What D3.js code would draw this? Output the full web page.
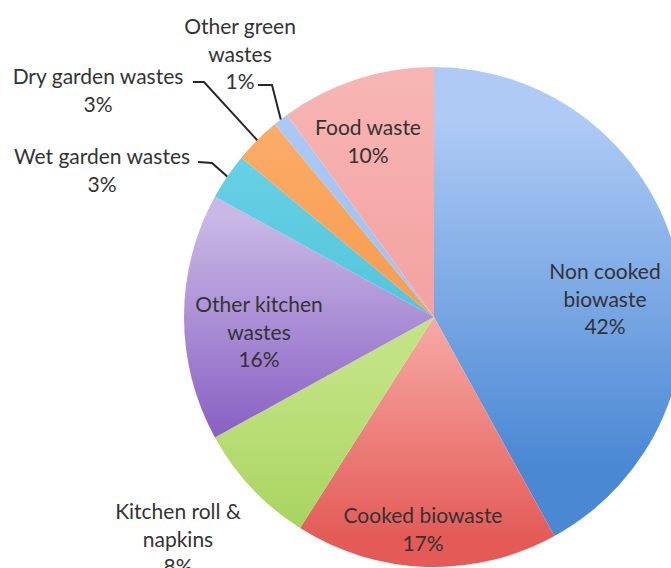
<!DOCTYPE html>
<html>
<head>
<meta charset="utf-8">
<script src="https://cdn.jsdelivr.net/npm/d3@7"></script>
<style>
  html, body { margin: 0; padding: 0; background: #ffffff; }
  svg { display: block; }
</style>
</head>
<body>
<svg id="chart" width="671" height="568"></svg>
<script>
// ---- data ----
const categories = [
  "Non cooked biowaste",
  "Cooked biowaste",
  "Kitchen roll & napkins",
  "Other kitchen wastes",
  "Wet garden wastes",
  "Dry garden wastes",
  "Other green wastes",
  "Food waste"
];
const values = [42, 17, 8, 16, 3, 3, 1, 10];
const labelLines = [
  ["Non cooked", "biowaste", "42%"],
  ["Cooked biowaste", "17%"],
  ["Kitchen roll &", "napkins", "8%"],
  ["Other kitchen", "wastes", "16%"],
  ["Wet garden wastes", "3%"],
  ["Dry garden wastes", "3%"],
  ["Other green", "wastes", "1%"],
  ["Food waste", "10%"]
];

// ---- styles / layout ----
const colorStops = [
  [[0.1, "#afcbf5"], [0.8, "#4a88d4"]],
  [[0.5, "#f7aaa5"], [0.95, "#e35a56"]],
  [[0.6, "#c2e383"], [1.0, "#a2d157"]],
  [[0.3, "#c9b8e6"], [0.73, "#8a62c4"]],
  [[0.2, "#66d0e4"], [0.5, "#54c4dc"]],
  [[0.1, "#fbad68"], [0.4, "#f79f56"]],
  [[0.1, "#acc9f4"], [0.3, "#a4c4f2"]],
  [[0.0, "#f7b6b4"], [0.6, "#f29e9c"]]
];
const W = 671, H = 568;
const cx = 434, cy = 317, R = 250;
// label anchor (x = centre of text block, y = centre of first line)
const labelAnchor = [
  [605, 272], [423, 516], [178, 512], [259, 305],
  [102, 157], [98, 77], [240, 27], [368, 128]
];
// leader lines: [start x, start y, bend x, bend y] (end is on the pie edge)
const leaders = {
  4: [198, 162, 212, 163],
  5: [193, 82, 204, 82],
  6: [258, 85, 272, 85]
};
const lineStep = 27.5;
const textColor = "#333333";

const svg = d3.select("#chart");
const defs = svg.append("defs");

const pie = d3.pie().sort(null).value(d => d)(values);
const arc = d3.arc().innerRadius(0).outerRadius(R);
const edgeArc = d3.arc().innerRadius(R).outerRadius(R);

colorStops.forEach((stops, i) => {
  const g = defs.append("linearGradient")
    .attr("id", "grad" + i)
    .attr("gradientUnits", "userSpaceOnUse")
    .attr("x1", 0).attr("y1", -R)
    .attr("x2", 0).attr("y2", R);
  stops.forEach(s => g.append("stop").attr("offset", s[0]).attr("stop-color", s[1]));
});

const gPie = svg.append("g").attr("transform", `translate(${cx},${cy})`);
gPie.selectAll("path.slice")
  .data(pie)
  .join("path")
  .attr("class", "slice")
  .attr("d", arc)
  .attr("fill", (d, i) => `url(#grad${i})`);

// font size fitted to Calibri-like width
const fontFamily = "Lato, 'Open Sans', 'Liberation Sans', sans-serif";
const probe = svg.append("text").attr("font-family", fontFamily).attr("font-size", 20).text("Cooked biowaste");
const measured = probe.node().getComputedTextLength();
probe.remove();
const fontSize = Math.max(16, Math.min(24, 20 * 159 / measured));

// leader lines
Object.keys(leaders).forEach(k => {
  const i = +k;
  const [sx, sy, bx, by] = leaders[k];
  const c = edgeArc.centroid(pie[i]);
  const ex = cx + c[0], ey = cy + c[1];
  svg.append("polyline")
    .attr("points", `${sx},${sy} ${bx},${by} ${ex},${ey}`)
    .attr("fill", "none")
    .attr("stroke", "#262626")
    .attr("stroke-width", 2);
});

// labels
const gLab = svg.append("g");
labelLines.forEach((lines, i) => {
  const [x, y] = labelAnchor[i];
  const t = gLab.append("text")
    .attr("font-family", fontFamily)
    .attr("font-size", fontSize)
    .attr("fill", textColor)
    .attr("text-anchor", "middle");
  lines.forEach((ln, j) => {
    t.append("tspan")
      .attr("x", x)
      .attr("y", y + j * lineStep)
      .attr("dy", "0.35em")
      .text(ln);
  });
});
</script>
</body>
</html>
